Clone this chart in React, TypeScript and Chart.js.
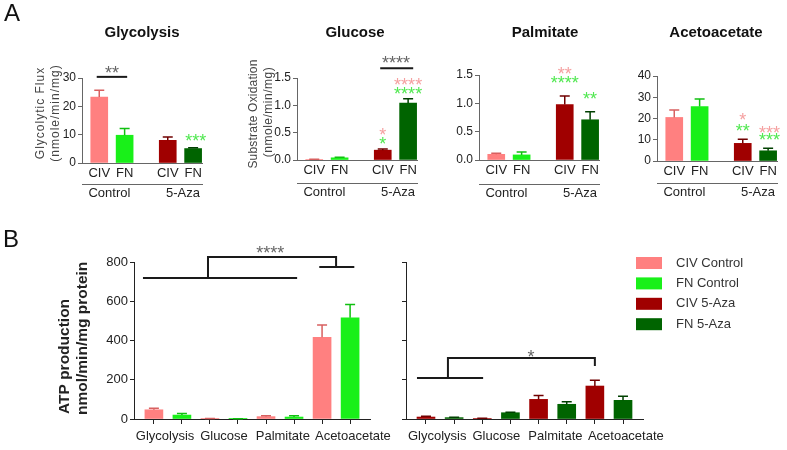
import React, { useEffect, useRef } from "react";
import { Chart, registerables } from "chart.js";

Chart.register(...registerables);

const FONT = "'Liberation Sans', Arial, Helvetica, sans-serif";
const W = 787;
const H = 450;

// ---------------- Panel A data ----------------
const barLabels = ["CIV", "FN", "CIV", "FN"];
const groupLabels = ["Control", "5-Aza"];
const barPositions = [1, 2, 3.7, 4.7];
const groupPositions = [1.4, 4.3];

const glycolysisValues = [23.3, 9.8, 8.0, 5.1];
const glycolysisErrors = [2.4, 2.4, 1.2, 0.3];
const glucoseValues = [0.01, 0.04, 0.18, 1.04];
const glucoseErrors = [0.005, 0.01, 0.02, 0.08];
const palmitateValues = [0.1, 0.09, 0.98, 0.71];
const palmitateErrors = [0.02, 0.05, 0.15, 0.14];
const acetoacetateValues = [20.5, 25.6, 8.3, 4.8];
const acetoacetateErrors = [3.5, 3.6, 1.9, 1.2];

// ---------------- Panel B data ----------------
const substrates = ["Glycolysis", "Glucose", "Palmitate", "Acetoacetate"];
const seriesNames = ["CIV Control", "FN Control", "CIV 5-Aza", "FN 5-Aza"];
const civSlots = [1, 3, 5, 7];
const fnSlots = [2, 4, 6, 8];
const substrateLabelPositions = [1.4, 3.5, 5.6, 8.1];
const civControlAtp = [47, 2, 12, 416];
const civControlAtpErr = [8, 0.5, 5, 63];
const fnControlAtp = [20, 1, 10, 516];
const fnControlAtpErr = [8, 0.5, 7, 68];
const civAzaAtp = [10, 3, 100, 168];
const civAzaAtpErr = [4, 1, 20, 30];
const fnAzaAtp = [7, 32, 75, 95];
const fnAzaAtpErr = [2, 2, 13, 21];

const COLORS = ["#FF8080", "#19F019", "#A00000", "#006400"];
const ERR_COLORS = ["#D86060", "#10C010", "#700000", "#004000"];
const PINK_STAR = "#F5A0A0";
const GREEN_STAR = "#50E850";
const GRAY_STAR = "#666666";

type Txt = {
  t: string; x: number; y: number; font: string; color?: string;
  align?: CanvasTextAlign; baseline?: CanvasTextBaseline; rot?: number; ls?: number;
};
type Star = { t: string; x: number; y: number; color: string };
type Poly = number[][];

function decor(spec: { texts?: Txt[]; stars?: Star[]; lines?: Poly[]; legend?: boolean }) {
  return {
    id: "decor",
    afterDatasetsDraw(chart: any) {
      const ctx = chart.ctx as CanvasRenderingContext2D;
      const yS = chart.scales.y;
      chart.data.datasets.forEach((ds: any, di: number) => {
        const meta = chart.getDatasetMeta(di);
        meta.data.forEach((el: any, i: number) => {
          const v = ds.data[i].y;
          const e = ds.errors[i];
          const yTop = yS.getPixelForValue(v + e);
          const ec = Array.isArray(ds.errColors) ? ds.errColors[i] : ds.errColors;
          ctx.save();
          ctx.strokeStyle = ec;
          ctx.lineWidth = 1.5;
          ctx.beginPath();
          ctx.moveTo(el.x, el.y);
          ctx.lineTo(el.x, yTop);
          ctx.moveTo(el.x - 5, yTop);
          ctx.lineTo(el.x + 5, yTop);
          ctx.stroke();
          ctx.restore();
        });
      });
    },
    afterDraw(chart: any) {
      const ctx = chart.ctx as CanvasRenderingContext2D;
      const xS = chart.scales.x;
      const yS = chart.scales.y;
      (spec.lines || []).forEach((poly) => {
        ctx.save();
        ctx.strokeStyle = "#1a1a1a";
        ctx.lineWidth = 2;
        ctx.beginPath();
        poly.forEach((p, i) => {
          const px = xS.getPixelForValue(p[0]);
          const py = yS.getPixelForValue(p[1]);
          if (i === 0) ctx.moveTo(px, py); else ctx.lineTo(px, py);
        });
        ctx.stroke();
        ctx.restore();
      });
      (spec.stars || []).forEach((s) => {
        const size = 18;
        ctx.save();
        ctx.font = `${size}px ${FONT}`;
        ctx.fillStyle = s.color;
        ctx.textAlign = "center";
        ctx.textBaseline = "alphabetic";
        ctx.fillText(s.t, xS.getPixelForValue(s.x), yS.getPixelForValue(s.y) + 0.58 * size);
        ctx.restore();
      });
      (spec.texts || []).forEach((t) => {
        ctx.save();
        ctx.font = t.font;
        ctx.fillStyle = t.color || "#222";
        ctx.textAlign = t.align || "center";
        ctx.textBaseline = t.baseline || "middle";
        (ctx as any).letterSpacing = `${t.ls || 0}px`;
        ctx.translate(t.x, t.y);
        if (t.rot) ctx.rotate((t.rot * Math.PI) / 180);
        ctx.fillText(t.t, 0, 0);
        ctx.restore();
      });
      if (spec.legend) {
        seriesNames.forEach((name, i) => {
          const y = 263 + i * 20.4;
          ctx.save();
          ctx.fillStyle = COLORS[i];
          ctx.fillRect(636, y - 6, 26, 12);
          ctx.font = `13px ${FONT}`;
          ctx.fillStyle = "#333";
          ctx.textAlign = "left";
          ctx.textBaseline = "middle";
          ctx.fillText(name, 676, y);
          ctx.restore();
        });
      }
    },
  };
}

function panelA(p: {
  values: number[]; errors: number[]; yMax: number; yStep: number; dec: number;
  l: number; r: number; t: number; b: number; g: number;
  texts: Txt[]; stars: Star[]; lines: Poly[];
}) {
  const AX = "#666";
  const xMin = 0.32;
  const xMax = 5.05;
  const yW = 40;
  const x2H = 20;
  const tickFont = { family: FONT, size: 13 };
  return {
    type: "bar",
    data: {
      datasets: [
        {
          data: barPositions.map((x, i) => ({ x, y: p.values[i] })),
          backgroundColor: COLORS,
          borderWidth: 0,
          barThickness: 17,
          grouped: false,
          errors: p.errors,
          errColors: ERR_COLORS,
          xAxisID: "x",
          yAxisID: "y",
        },
      ],
    },
    options: {
      responsive: false,
      animation: false,
      devicePixelRatio: 1,
      events: [],
      layout: { padding: { left: p.l - yW, right: W - p.r, top: p.t, bottom: H - p.g - x2H } },
      plugins: { legend: { display: false }, tooltip: { enabled: false }, title: { display: false } },
      scales: {
        x: {
          type: "linear", position: "bottom", min: xMin, max: xMax, bounds: "data", offset: false, weight: 0,
          afterBuildTicks: (s: any) => { s.ticks = barPositions.map((v) => ({ value: v })); },
          afterFit: (s: any) => { s.height = p.g - p.b; },
          grid: { display: false, drawTicks: false, offset: false },
          border: { display: true, color: AX, width: 1 },
          ticks: { autoSkip: false, maxRotation: 0, padding: 3, font: tickFont, color: "#222",
            callback: (_v: any, i: number) => barLabels[i] },
        },
        x2: {
          type: "linear", axis: "x", position: "bottom", min: xMin, max: xMax, bounds: "data", offset: false, weight: 1,
          afterBuildTicks: (s: any) => { s.ticks = groupPositions.map((v) => ({ value: v })); },
          afterFit: (s: any) => { s.height = x2H; },
          grid: { display: false, drawTicks: false, offset: false },
          border: { display: true, color: AX, width: 1 },
          ticks: { autoSkip: false, maxRotation: 0, padding: 2, font: tickFont, color: "#222",
            callback: (_v: any, i: number) => groupLabels[i] },
        },
        y: {
          type: "linear", min: 0, max: p.yMax, bounds: "data",
          afterFit: (s: any) => { s.width = yW; },
          grid: { display: true, drawOnChartArea: false, drawTicks: true, tickLength: 4, color: AX },
          border: { display: true, color: AX, width: 1 },
          ticks: { stepSize: p.yStep, padding: 2, font: { family: FONT, size: 12 }, color: "#222",
            callback: (v: any) => Number(v).toFixed(p.dec) },
        },
      },
    },
    plugins: [decor({ texts: p.texts, stars: p.stars, lines: p.lines })],
  };
}

function panelB(p: {
  sets: { values: number[]; errors: number[]; slots: number[]; color: string; errColor: string; label: string }[];
  l: number; r: number; showY: boolean; texts: Txt[]; stars: Star[]; lines: Poly[]; legend?: boolean;
}) {
  const AX = "#222";
  const xMin = 0.29;
  const xMax = 8.71;
  const t = 262;
  const b = 419;
  const yW = p.showY ? 40 : 20;
  const xH = 5;
  const x2H = 24;
  return {
    type: "bar",
    data: {
      datasets: p.sets.map((s) => ({
        label: s.label,
        data: s.slots.map((x, i) => ({ x, y: s.values[i] })),
        backgroundColor: s.color,
        borderWidth: 0,
        barThickness: 18,
        grouped: false,
        errors: s.errors,
        errColors: s.errColor,
        xAxisID: "x",
        yAxisID: "y",
      })),
    },
    options: {
      responsive: false,
      animation: false,
      devicePixelRatio: 1,
      events: [],
      layout: { padding: { left: p.l - yW, right: W - p.r, top: t, bottom: H - b - xH - x2H } },
      plugins: { legend: { display: false }, tooltip: { enabled: false }, title: { display: false } },
      scales: {
        x: {
          type: "linear", position: "bottom", min: xMin, max: xMax, bounds: "data", offset: false, weight: 0,
          afterBuildTicks: (s: any) => { s.ticks = [...civSlots, ...fnSlots].sort((a, c) => a - c).map((v) => ({ value: v })); },
          afterFit: (s: any) => { s.height = xH; },
          grid: { display: true, drawOnChartArea: false, drawTicks: true, tickLength: 5, color: AX, offset: false },
          border: { display: true, color: AX, width: 1 },
          ticks: { autoSkip: false, maxRotation: 0, padding: 0, callback: () => "" },
        },
        x2: {
          type: "linear", axis: "x", position: "bottom", min: xMin, max: xMax, bounds: "data", offset: false, weight: 1,
          afterBuildTicks: (s: any) => { s.ticks = substrateLabelPositions.map((v) => ({ value: v })); },
          afterFit: (s: any) => { s.height = x2H; },
          grid: { display: false, drawTicks: false, offset: false },
          border: { display: false },
          ticks: { autoSkip: false, maxRotation: 0, padding: 5, font: { family: FONT, size: 13 }, color: "#222",
            callback: (_v: any, i: number) => substrates[i] },
        },
        y: {
          type: "linear", min: 0, max: 800, bounds: "data",
          afterFit: (s: any) => { s.width = yW; },
          grid: { display: true, drawOnChartArea: false, drawTicks: true, tickLength: 4, color: AX },
          border: { display: true, color: AX, width: 1 },
          ticks: { stepSize: 200, padding: 2, font: { family: FONT, size: 13 }, color: "#222",
            callback: (v: any) => (p.showY ? String(v) : "") },
        },
      },
    },
    plugins: [decor({ texts: p.texts, stars: p.stars, lines: p.lines, legend: p.legend })],
  };
}

const TITLE_FONT = `bold 15px ${FONT}`;
const YT_FONT = `12px ${FONT}`;

const glycolysisConfig = () =>
  panelA({
    values: glycolysisValues, errors: glycolysisErrors, yMax: 30, yStep: 10, dec: 0,
    l: 82, r: 202, t: 78, b: 163, g: 184,
    texts: [
      { t: "A", x: 12, y: 14, font: `24px ${FONT}`, color: "#111" },
      { t: "Glycolysis", x: 142, y: 33, font: TITLE_FONT, color: "#111" },
      { t: "Glycolytic Flux", x: 41, y: 113, font: YT_FONT, color: "#444", rot: -90, ls: 1 },
      { t: "(nmole/min/mg)", x: 56, y: 113, font: YT_FONT, color: "#444", rot: -90, ls: 1 },
    ],
    stars: [
      { t: "**", x: 1.5, y: 33.5, color: GRAY_STAR },
      { t: "***", x: 4.8, y: 9.5, color: GREEN_STAR },
    ],
    lines: [[[0.9, 30.4], [2.1, 30.4]]],
  });

const glucoseConfig = () =>
  panelA({
    values: glucoseValues, errors: glucoseErrors, yMax: 1.5, yStep: 0.5, dec: 1,
    l: 297, r: 417, t: 78, b: 160, g: 183,
    texts: [
      { t: "Glucose", x: 355, y: 33, font: TITLE_FONT, color: "#111" },
      { t: "Substrate Oxidation", x: 254, y: 114, font: YT_FONT, color: "#444", rot: -90, ls: 0.2 },
      { t: "(nmole/min/mg)", x: 269, y: 112, font: YT_FONT, color: "#444", rot: -90, ls: 0.5 },
    ],
    stars: [
      { t: "*", x: 3.7, y: 0.53, color: PINK_STAR },
      { t: "*", x: 3.7, y: 0.38, color: GREEN_STAR },
      { t: "****", x: 4.7, y: 1.46, color: PINK_STAR },
      { t: "****", x: 4.7, y: 1.28, color: GREEN_STAR },
      { t: "****", x: 4.22, y: 1.86, color: GRAY_STAR },
    ],
    lines: [[[3.6, 1.68], [4.9, 1.68]]],
  });

const palmitateConfig = () =>
  panelA({
    values: palmitateValues, errors: palmitateErrors, yMax: 1.5, yStep: 0.5, dec: 1,
    l: 479, r: 599, t: 75, b: 160, g: 184,
    texts: [{ t: "Palmitate", x: 545, y: 33, font: TITLE_FONT, color: "#111" }],
    stars: [
      { t: "**", x: 3.7, y: 1.59, color: PINK_STAR },
      { t: "****", x: 3.7, y: 1.43, color: GREEN_STAR },
      { t: "**", x: 4.7, y: 1.16, color: GREEN_STAR },
    ],
    lines: [],
  });

const acetoacetateConfig = () =>
  panelA({
    values: acetoacetateValues, errors: acetoacetateErrors, yMax: 40, yStep: 10, dec: 0,
    l: 657, r: 777, t: 76, b: 161, g: 183,
    texts: [{ t: "Acetoacetate", x: 716, y: 33, font: TITLE_FONT, color: "#111" }],
    stars: [
      { t: "*", x: 3.7, y: 21.2, color: PINK_STAR },
      { t: "**", x: 3.7, y: 16, color: GREEN_STAR },
      { t: "***", x: 4.75, y: 15.5, color: PINK_STAR },
      { t: "***", x: 4.75, y: 12.2, color: GREEN_STAR },
    ],
    lines: [],
  });

const atpControlConfig = () =>
  panelB({
    sets: [
      { values: civControlAtp, errors: civControlAtpErr, slots: civSlots, color: COLORS[0], errColor: ERR_COLORS[0], label: seriesNames[0] },
      { values: fnControlAtp, errors: fnControlAtpErr, slots: fnSlots, color: COLORS[1], errColor: ERR_COLORS[1], label: seriesNames[1] },
    ],
    l: 134, r: 370, showY: true,
    texts: [
      { t: "B", x: 11, y: 240, font: `24px ${FONT}`, color: "#111" },
      { t: "ATP production", x: 65, y: 414, font: `bold 15.5px ${FONT}`, color: "#222", rot: -90, align: "left" },
      { t: "nmol/min/mg protein", x: 83, y: 415, font: `bold 15.5px ${FONT}`, color: "#222", rot: -90, align: "left" },
    ],
    stars: [{ t: "****", x: 5.15, y: 871, color: GRAY_STAR }],
    lines: [
      [[0.61, 718], [6.11, 718]],
      [[2.93, 718], [2.93, 825], [7.5, 825], [7.5, 775]],
      [[6.9, 775], [8.15, 775]],
    ],
  });

const atpAzaConfig = () =>
  panelB({
    sets: [
      { values: civAzaAtp, errors: civAzaAtpErr, slots: civSlots, color: COLORS[2], errColor: ERR_COLORS[2], label: seriesNames[2] },
      { values: fnAzaAtp, errors: fnAzaAtpErr, slots: fnSlots, color: COLORS[3], errColor: ERR_COLORS[3], label: seriesNames[3] },
    ],
    l: 406, r: 643, showY: false,
    texts: [],
    stars: [{ t: "*", x: 4.73, y: 341, color: GRAY_STAR }],
    lines: [
      [[0.68, 209], [3.03, 209]],
      [[1.78, 209], [1.78, 311], [7, 311], [7, 270]],
    ],
    legend: true,
  });

function ChartCanvas({ make }: { make: () => any }) {
  const ref = useRef<HTMLCanvasElement>(null);
  useEffect(() => {
    const chart = new Chart(ref.current as HTMLCanvasElement, make());
    return () => chart.destroy();
  }, []);
  return (
    <canvas
      ref={ref}
      width={W}
      height={H}
      style={{ position: "absolute", left: 0, top: 0, width: W, height: H }}
    />
  );
}

export default function App() {
  return (
    <div
      style={{
        position: "fixed", left: 0, top: 0, width: W, height: H,
        background: "#ffffff", overflow: "hidden",
      }}
    >
      <ChartCanvas make={glycolysisConfig} />
      <ChartCanvas make={glucoseConfig} />
      <ChartCanvas make={palmitateConfig} />
      <ChartCanvas make={acetoacetateConfig} />
      <ChartCanvas make={atpControlConfig} />
      <ChartCanvas make={atpAzaConfig} />
    </div>
  );
}
